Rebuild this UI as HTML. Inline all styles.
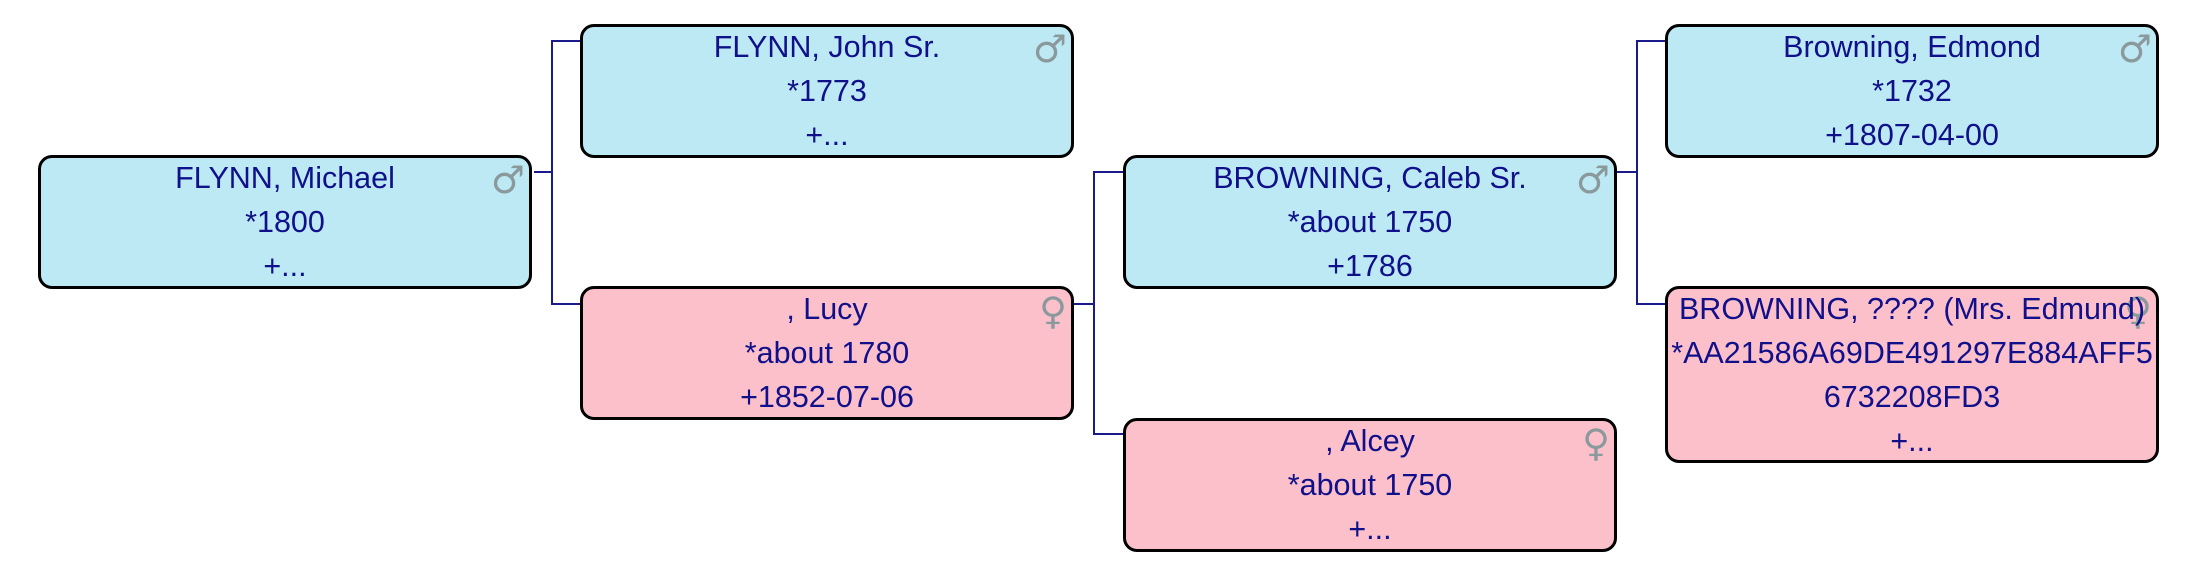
<!DOCTYPE html>
<html><head><meta charset="utf-8"><style>
body{margin:0;width:2210px;height:583px;background:#fff;position:relative;overflow:hidden;font-family:"Liberation Sans",sans-serif}
.b{position:absolute;box-sizing:border-box;width:494px;height:134px;border:3px solid #000;border-radius:14px}
.m{background:#bde9f5}.f{background:#fcc0cb}
.t{position:absolute;left:-30px;right:-30px;top:-2px;text-align:center;color:#10108a;font-size:30.5px;line-height:44px;white-space:nowrap}
.g{position:absolute;right:4px;top:2px;color:#8a9a9c;font-size:38px;line-height:40px;font-family:"DejaVu Sans",sans-serif}
.l{position:absolute;background:#1a1a8a}
</style></head><body>
<div class="l" style="left:534px;top:171px;width:19px;height:2px"></div>
<div class="l" style="left:551px;top:40px;width:2px;height:265px"></div>
<div class="l" style="left:551px;top:40px;width:30px;height:2px"></div>
<div class="l" style="left:551px;top:303px;width:30px;height:2px"></div>
<div class="l" style="left:1073px;top:303px;width:22px;height:2px"></div>
<div class="l" style="left:1093px;top:171px;width:2px;height:264px"></div>
<div class="l" style="left:1093px;top:171px;width:31px;height:2px"></div>
<div class="l" style="left:1093px;top:433px;width:31px;height:2px"></div>
<div class="l" style="left:1616px;top:171px;width:22px;height:2px"></div>
<div class="l" style="left:1636px;top:40px;width:2px;height:265px"></div>
<div class="l" style="left:1636px;top:40px;width:30px;height:2px"></div>
<div class="l" style="left:1636px;top:303px;width:30px;height:2px"></div>

<div class="b m" style="left:38px;top:155px"><div class="t">FLYNN, Michael<br>*1800<br>+...</div><div class="g">♂</div></div>
<div class="b m" style="left:580px;top:24px"><div class="t">FLYNN, John Sr.<br>*1773<br>+...</div><div class="g">♂</div></div>
<div class="b f" style="left:580px;top:286px"><div class="t">, Lucy<br>*about 1780<br>+1852-07-06</div><div class="g">♀</div></div>
<div class="b m" style="left:1123px;top:155px"><div class="t">BROWNING, Caleb Sr.<br>*about 1750<br>+1786</div><div class="g">♂</div></div>
<div class="b f" style="left:1123px;top:418px"><div class="t">, Alcey<br>*about 1750<br>+...</div><div class="g">♀</div></div>
<div class="b m" style="left:1665px;top:24px"><div class="t">Browning, Edmond<br>*1732<br>+1807-04-00</div><div class="g">♂</div></div>
<div class="b f" style="left:1665px;top:286px;height:177px"><div class="g">♀</div><div class="t">BROWNING, ???? (Mrs. Edmund)<br>*AA21586A69DE491297E884AFF5<br>6732208FD3<br>+...</div></div>
</body></html>
